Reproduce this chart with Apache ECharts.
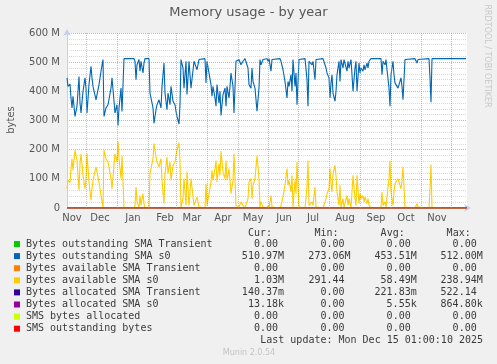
<!DOCTYPE html>
<html><head><meta charset="utf-8">
<script src="https://cdn.jsdelivr.net/npm/echarts@6/dist/echarts.min.js"></script>
<style>html,body{margin:0;padding:0;background:#f0f0f0}#c{width:497px;height:364px}</style>
</head><body><div id="c"></div>
<script>
// Day index (from start of the 400-day window) of each sample
const sampleDays = [0,1,3,4,5,6,8,10,12,13,14,16,18,19,20,22,24,25,26,29,30,32,34,36,37,39,41,44,45,47,48,50,51,52,54,55,57,67,68,69,70,72,73,74,76,77,78,82,83,84,86,87,89,90,92,94,95,97,98,100,101,103,104,106,108,109,110,112,113,114,116,117,119,120,122,124,125,127,129,130,132,133,138,139,140,142,144,145,146,148,149,150,152,153,154,156,158,159,160,162,163,164,166,167,169,170,172,173,174,176,177,178,180,181,182,184,185,186,188,189,190,192,193,194,196,197,198,200,201,202,204,205,206,213,214,216,217,218,220,221,222,224,225,226,228,229,230,232,233,238,240,241,242,244,245,246,248,249,250,256,258,259,260,262,263,264,265,266,268,269,270,272,273,274,276,277,278,280,281,282,284,285,286,288,289,290,292,293,294,296,297,298,300,301,302,304,314,315,316,318,319,320,322,323,324,326,327,328,330,331,332,334,335,336,338,339,348,349,350,351,352,362,363,364,365,399];
// Bytes outstanding SMA s0 (M)
const outstandingS0 = [446,417,425,377,343,383,314,349,451,360,326,400,446,411,326,423,486,446,417,371,366,423,469,509,314,343,354,411,446,366,326,354,283,343,411,331,512,512,503,440,491,509,469,503,463,497,512,512,394,400,343,291,337,354,371,343,417,497,394,337,394,354,417,366,354,331,314,288,354,509,480,411,503,389,503,411,406,503,509,474,509,512,512,429,503,509,423,383,417,377,349,423,360,400,317,389,411,349,417,377,417,463,417,326,503,509,509,512,491,503,509,512,512,480,423,411,480,434,411,417,332,411,509,491,509,503,509,512,503,512,469,509,512,512,503,474,480,434,377,434,417,457,400,509,417,463,354,509,512,512,440,349,503,509,491,503,440,509,512,512,491,480,463,446,377,429,457,394,366,400,457,503,434,509,480,509,503,469,503,480,509,457,400,480,503,400,497,463,480,469,491,474,497,480,503,512,512,457,503,491,509,474,411,349,457,503,457,429,423,411,417,446,417,371,509,512,512,509,497,509,512,512,446,363,512,512];
// Bytes available SMA s0 (M)
const availableS0 = [66,95,87,135,169,129,198,163,61,152,186,112,66,101,186,89,26,66,95,141,146,89,43,3,198,169,158,101,66,146,186,158,229,169,101,181,0,0,9,72,21,3,43,9,49,15,0,0,118,112,169,221,175,158,141,169,95,15,118,175,118,158,95,146,158,181,198,224,158,3,32,101,9,123,9,101,106,9,3,38,3,0,0,83,9,3,89,129,95,135,163,89,152,112,195,123,101,163,95,135,95,49,95,186,9,3,3,0,21,9,3,0,0,32,89,101,32,78,101,95,180,101,3,21,3,9,3,0,9,0,43,3,0,0,9,38,32,78,135,78,95,55,112,3,95,49,158,3,0,0,72,163,9,3,21,9,72,3,0,0,21,32,49,66,135,83,55,118,146,112,55,9,78,3,32,3,9,43,9,32,3,55,112,32,9,112,15,49,32,43,21,38,15,32,9,0,0,55,9,21,3,38,101,163,55,9,55,83,89,101,95,66,95,141,3,0,0,3,15,3,0,0,66,149,0,0];
// Flat (≈0) series
const flatDays = [0, 400];
const zeroValues = [0, 0];

const monthNames = ['Nov','Dec','Jan','Feb','Mar','Apr','May','Jun','Jul','Aug','Sep','Oct','Nov'];
const monthStartDays = [19,50,81,109,140,171,201,231,262,293,324,354,384];
const monthLabelDays = [5,33,66,98,125,156,186,217,246,278,309,339,370];

const seriesNames = ['Bytes outstanding SMA Transient','Bytes outstanding SMA s0','Bytes available SMA Transient','Bytes available SMA s0','Bytes allocated SMA Transient','Bytes allocated SMA s0','SMS bytes allocated','SMS outstanding bytes'];
const seriesColors = ['#00cc00','#0066b3','#ff8000','#ffcc00','#330099','#990099','#ccff00','#ff0000'];
const curVals = ['0.00','510.97M','0.00','1.03M','140.37m','13.18k','0.00','0.00'];
const minVals = ['0.00','273.06M','0.00','291.44','0.00','0.00','0.00','0.00'];
const avgVals = ['0.00','453.51M','0.00','58.49M','221.83m','5.55k','0.00','0.00'];
const maxVals = ['0.00','512.00M','0.00','238.94M','522.14','864.80k','0.00','0.00'];
const colHeaders = ['Cur:','Min:','Avg:','Max:'];

const seriesSource = [null, [sampleDays, outstandingS0], null, [sampleDays, availableS0], null, null, null, null];

const chart = echarts.init(document.getElementById('c'), null, {renderer: 'canvas'});

const series = seriesNames.map((name, i) => {
  const src = seriesSource[i] || [flatDays, zeroValues];
  const s = {
    name, type: 'line', showSymbol: false, symbol: 'none', animation: false,
    data: src[0].map((d, k) => [d, src[1][k]]),
    lineStyle: {color: seriesColors[i], width: 1.1}
  };
  if (i === 1) {
    s.markLine = {
      silent: true, symbol: ['none', 'none'], animation: false,
      label: {show: false},
      lineStyle: {color: 'rgba(225,110,110,0.6)', type: [1,1], width: 1},
      data: monthStartDays.map(d => ({xAxis: d}))
    };
  }
  return s;
});

const mono = '10px "DejaVu Sans Mono"';
const textCol = '#3a3a3a';
const colRight = [284, 350.5, 416.7, 482.7];
const graphics = [];
graphics.push({type:'text', x: 248.5, y: 13, style:{text:'Memory usage - by year', font:'13px "DejaVu Sans"', fill:'#555', align:'center', verticalAlign:'middle'}});
graphics.push({type:'text', x: 11, y: 120, rotation: Math.PI/2, style:{text:'bytes', font:'10px "DejaVu Sans"', fill:'#555', align:'center', verticalAlign:'middle'}});
graphics.push({type:'text', x: 487, y: 56, rotation: -Math.PI/2, style:{text:'RRDTOOL / TOBI OETIKER', font:'8px "DejaVu Sans"', fill:'#c8c8c8', align:'center', verticalAlign:'middle'}});
colHeaders.forEach((h, c) => {
  graphics.push({type:'text', x: colRight[c] - 12, y: 233, style:{text:h, font:mono, fill:textCol, align:'right', verticalAlign:'middle'}});
});
const cols = [curVals, minVals, avgVals, maxVals];
seriesNames.forEach((name, i) => {
  const y = 244 + i * 12.1;
  graphics.push({type:'rect', shape:{x:14, y:y-3, width:6, height:6}, style:{fill:seriesColors[i]}});
  graphics.push({type:'text', x: 26, y: y, style:{text:name, font:mono, fill:textCol, align:'left', verticalAlign:'middle'}});
  cols.forEach((arr, c) => {
    const v = arr[i];
    const hasSuffix = /[A-Za-z]$/.test(v);
    graphics.push({type:'text', x: colRight[c] - (hasSuffix ? 0 : 6), y: y, style:{text:v, font:mono, fill:textCol, align:'right', verticalAlign:'middle'}});
  });
});
graphics.push({type:'text', x: 483, y: 340.5, style:{text:'Last update: Mon Dec 15 01:00:10 2025', font:mono, fill:textCol, align:'right', verticalAlign:'middle'}});
graphics.push({type:'text', x: 249, y: 353, style:{text:'Munin 2.0.54', font:'8px "DejaVu Sans"', fill:'#c4c4c4', align:'center', verticalAlign:'middle'}});

const axisBlue = '#c6cdf2';

chart.setOption({
  backgroundColor: '#f0f0f0',
  animation: false,
  grid: {left: 67, top: 33, width: 400, height: 175, show: true, backgroundColor: '#ffffff', borderWidth: 0, containLabel: false, outerBoundsMode: 'none'},
  xAxis: {
    type: 'value', min: 0, max: 400,
    axisLine: {show: true, lineStyle: {color: axisBlue, width: 1}, symbol: ['none', 'arrow'], symbolSize: [6, 7], symbolOffset: [0, 4]},
    axisTick: {show: false},
    axisLabel: {customValues: monthLabelDays, formatter: v => monthNames[monthLabelDays.indexOf(v)] || '', fontSize: 10, fontFamily: 'DejaVu Sans', color: '#555', margin: 5, hideOverlap: false},
    splitLine: {show: false},
    minorSplitLine: {show: false}
  },
  yAxis: {
    type: 'value', min: 0, max: 600, interval: 100,
    axisLine: {show: true, lineStyle: {color: axisBlue, width: 1}, symbol: ['none', 'arrow'], symbolSize: [6, 7], symbolOffset: [0, 4]},
    axisTick: {show: false},
    axisLabel: {formatter: v => v === 0 ? '0' : v + ' M', fontSize: 10, fontFamily: 'DejaVu Sans', color: '#555', margin: 7},
    splitLine: {show: true, lineStyle: {color: 'rgba(225,110,110,0.6)', type: [1,1], width: 1}},
    minorTick: {show: false, splitNumber: 5},
    minorSplitLine: {show: true, lineStyle: {color: 'rgba(150,150,150,0.35)', type: [1,1], width: 1}}
  },
  series: series,
  graphic: graphics
});
</script>
</body></html>
